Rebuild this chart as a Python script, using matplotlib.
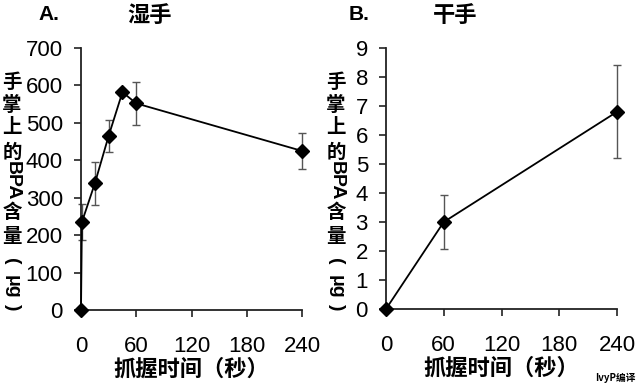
import matplotlib
matplotlib.use("Agg")
import matplotlib.pyplot as plt

# ---- data ----
wet_time = [0, 1, 15, 30, 45, 60, 240]
wet_bpa = [0, 235, 338, 465, 582, 552, 425]
wet_err = [0, 48, 58, 43, 0, 58, 47]

dry_time = [0, 60, 240]
dry_bpa = [0, 3.0, 6.8]
dry_err = [0, 0.92, 1.6]

x_ticks = [0, 60, 120, 180, 240]
wet_yticks = [0, 100, 200, 300, 400, 500, 600, 700]
dry_yticks = [0, 1, 2, 3, 4, 5, 6, 7, 8, 9]

CJK = ["Noto Sans CJK SC", "DejaVu Sans"]
LAT = ["Liberation Sans", "DejaVu Sans"]
W, H = 640, 387

fig = plt.figure(figsize=(6.4, 3.87), dpi=100)
axA = fig.add_axes([81 / W, 1 - 310 / H, 221 / W, 262 / H])
axB = fig.add_axes([386 / W, 1 - 309 / H, 231 / W, 261 / H])


def style(ax, yticks, ymax):
    ax.set_xlim(0, 240)
    ax.set_ylim(0, ymax)
    ax.set_xticks(x_ticks)
    ax.set_yticks(yticks)
    for s in ["top", "right"]:
        ax.spines[s].set_visible(False)
    for s in ["left", "bottom"]:
        ax.spines[s].set_linewidth(1.3)
        ax.spines[s].set_color("#222222")
    ax.tick_params(direction="out", length=5, width=1.2, color="#222222",
                   labelsize=16)
    ax.tick_params(axis="x", pad=14)
    ax.tick_params(axis="y", pad=8)
    for lab in ax.get_xticklabels() + ax.get_yticklabels():
        lab.set_family(LAT)
    ax.set_xlabel("抓握时间（秒）", family=CJK, fontsize=16, fontweight="bold",
                  labelpad=0)


def draw(ax, x, y, err):
    ax.errorbar(x, y, yerr=err, fmt="none", ecolor="#555555", elinewidth=1,
                capsize=3, capthick=1, zorder=2, clip_on=False)
    ax.plot(x, y, "-", color="black", lw=1.3, marker="D", ms=7,
            clip_on=False, zorder=3)


draw(axA, wet_time, wet_bpa, wet_err)
draw(axB, dry_time, dry_bpa, dry_err)
style(axA, wet_yticks, 700)
style(axB, dry_yticks, 9)

# panel titles
fig.text(49 / W, 1 - 15 / H, "A.", family=LAT, fontsize=15, fontweight="bold",
         ha="center", va="center")
fig.text(150 / W, 1 - 15 / H, "湿手", family=CJK, fontsize=16, fontweight="bold",
         ha="center", va="center")
fig.text(359 / W, 1 - 15 / H, "B.", family=LAT, fontsize=15, fontweight="bold",
         ha="center", va="center")
fig.text(455 / W, 1 - 15 / H, "干手", family=CJK, fontsize=16, fontweight="bold",
         ha="center", va="center")

# vertical y label: upright CJK, rotated latin pieces
ylabel_parts = [("手", 82, 0), ("掌", 105, 0), ("上", 128, 0), ("的", 152, 0),
                ("BPA", 181, -90), ("含", 212, 0), ("量", 236, 0),
                ("(", 261, -90), ("μg", 287, -90), (")", 307, -90)]


def vlabel(xc):
    for txt, yc, rot in ylabel_parts:
        fam = CJK if rot == 0 else LAT
        fig.text(xc / W, 1 - yc / H, txt, family=fam, fontsize=14,
                 fontweight="bold", rotation=rot, ha="center", va="center",
                 rotation_mode="anchor")


vlabel(12)
vlabel(336)

fig.text(615 / W, 1 - 378 / H, "IvyP编译", family=CJK, fontsize=7,
         fontweight="bold", ha="center", va="center")

fig.savefig("out.png", dpi=100)
